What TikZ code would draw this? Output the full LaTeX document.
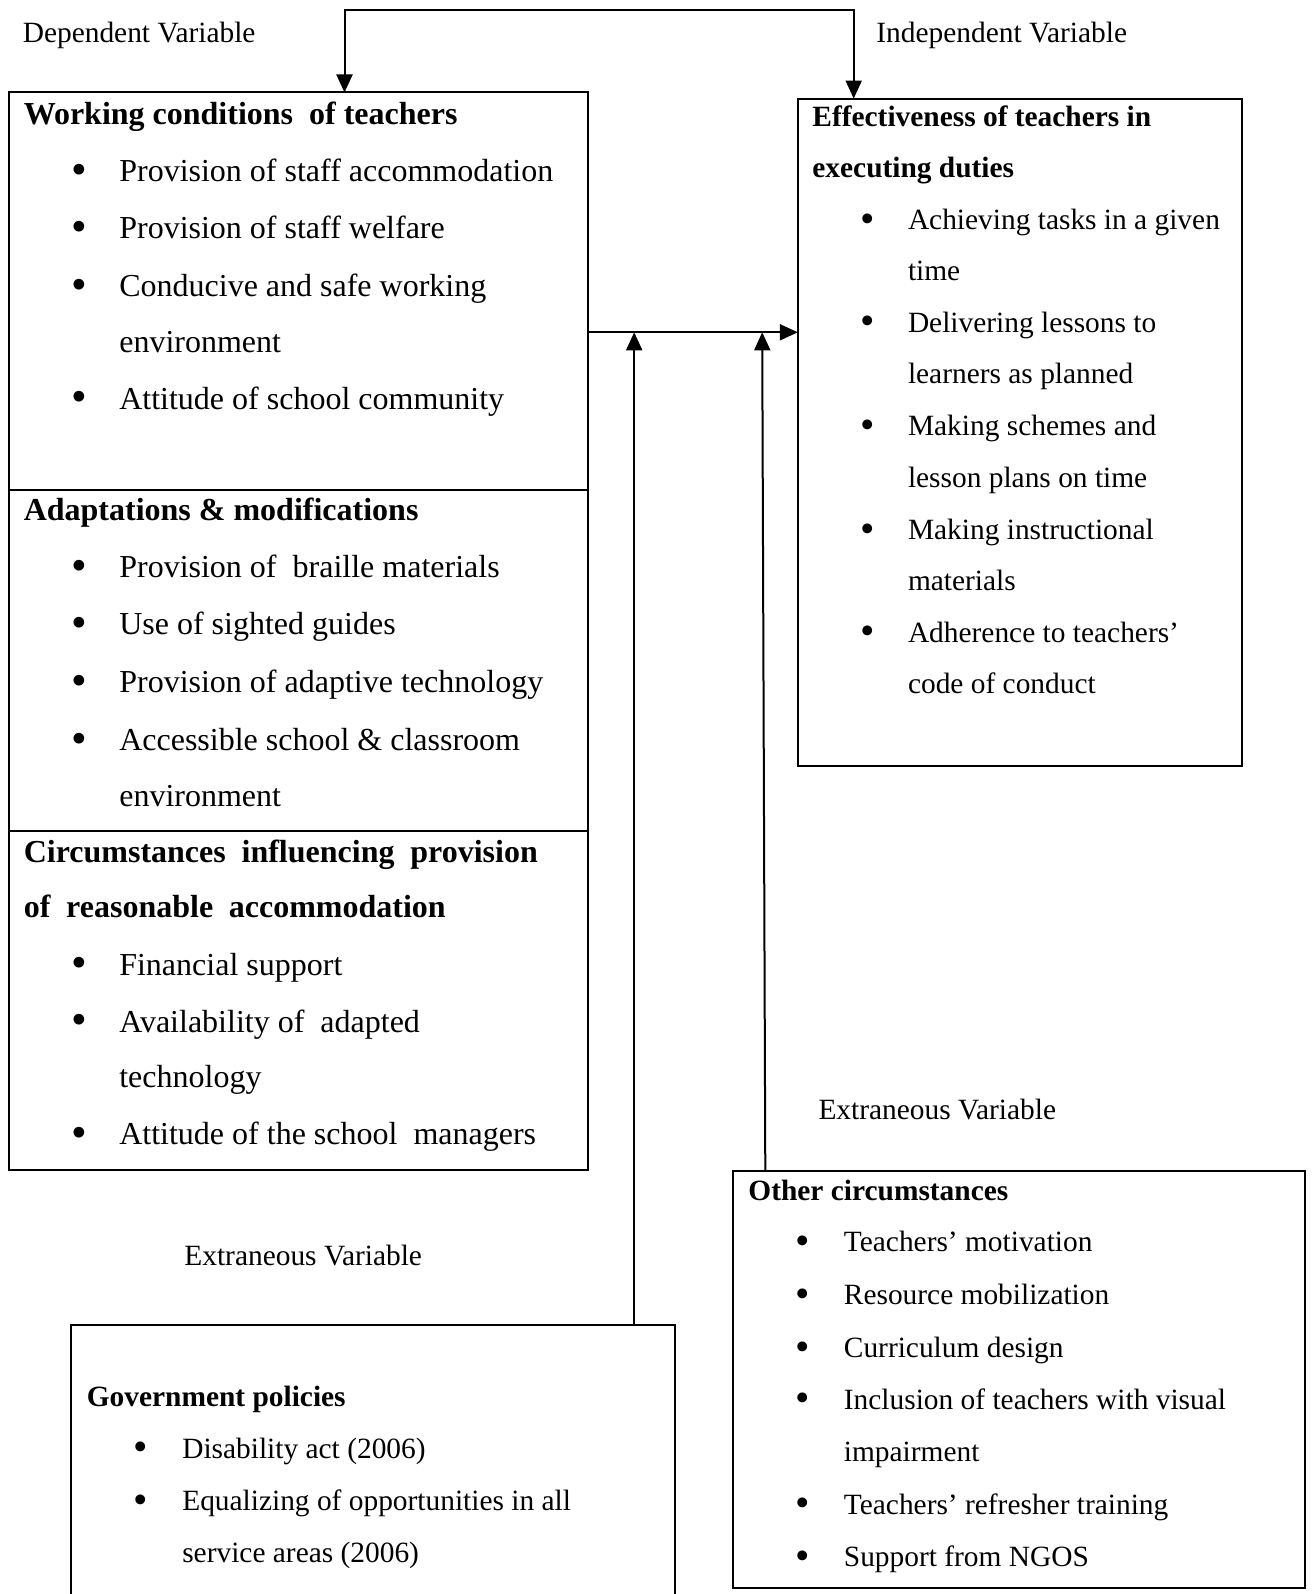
\documentclass[tikz,border=0pt]{standalone}
\usepackage{fontspec}
\setmainfont{Liberation Serif}
\usetikzlibrary{arrows.meta}
\newcommand{\bl}[1]{\llap{\raisebox{-0.09em}{\scalebox{1.4}{\textbullet}}\hspace{#1}}}
\begin{document}
\begin{tikzpicture}[x=0.5pt,y=-0.5pt,
  box/.style={draw,line width=1pt,inner sep=0pt,outer sep=0pt,anchor=north west},
  arr/.style={line width=1pt,-{Triangle[width=8pt,length=9pt]}},
  bigt/.style={anchor=base west,inner sep=0pt,yshift=-1.5pt,font=\fontsize{16}{19}\selectfont},
  bigh/.style={anchor=base west,inner sep=0pt,yshift=-1.5pt,font=\fontsize{16}{19}\selectfont\bfseries},
  smt/.style={anchor=base west,inner sep=0pt,yshift=-1.5pt,font=\fontsize{14.7}{17}\selectfont},
  smh/.style={anchor=base west,inner sep=0pt,yshift=-1.5pt,font=\fontsize{14.7}{17}\selectfont\bfseries}]
\useasboundingbox (0,0) rectangle (1311,1594);

% boxes
\node[box,minimum width=289.65pt,minimum height=198.7pt] (wc) at (9.1,92.5) {};
\node[box,minimum width=289.65pt,minimum height=170.7pt] (ad) at (9.1,489.9) {};
\node[box,minimum width=289.65pt,minimum height=169.25pt] (ci) at (9.1,831.3) {};
\node[box,minimum width=222.05pt,minimum height=333.85pt] (eff) at (797.8,98.6) {};
\node[box,minimum width=301.85pt,minimum height=142.35pt] (gov) at (71.1,1325.3) {};
\node[box,minimum width=286.05pt,minimum height=208.35pt] (oth) at (732.8,1170.8) {};

% labels
\node[smt] (dep) at (22.4,40) {Dependent Variable};
\node[smt] (ind) at (876,40) {Independent Variable};
\node[smt] (ex1) at (818.1,1116.7) {Extraneous Variable};
\node[smt] (ex2) at (184,1262) {Extraneous Variable};

% working conditions
\node[bigh] (wc0) at (23.4,121.4) {Working conditions~ of teachers};
\node[bigt] (wc1) at (118.9,178.3) {\bl{16pt}Provision of staff accommodation};
\node[bigt] (wc2) at (118.9,235.2) {\bl{16pt}Provision of staff welfare};
\node[bigt] (wc3) at (118.9,293.2) {\bl{16pt}Conducive and safe working};
\node[bigt] (wc4) at (118.9,349.1) {environment};
\node[bigt] (wc5) at (118.9,406) {\bl{16pt}Attitude of school community};

% adaptations
\node[bigh] (ad0) at (23.4,517.8) {Adaptations \& modifications};
\node[bigt] (ad1) at (118.9,574.7) {\bl{16pt}Provision of~ braille materials};
\node[bigt] (ad2) at (118.9,631.6) {\bl{16pt}Use of sighted guides};
\node[bigt] (ad3) at (118.9,689.5) {\bl{16pt}Provision of adaptive technology};
\node[bigt] (ad4) at (118.9,747.5) {\bl{16pt}Accessible school \& classroom};
\node[bigt] (ad5) at (118.9,803.3) {environment};

% circumstances
\node[bigh] (ci0) at (23.4,859.2) {\makebox[257pt][s]{Circumstances influencing provision}};
\node[bigh] (ci1) at (23.4,914.1) {\makebox[211pt][s]{of reasonable accommodation}};
\node[bigt] (ci2) at (118.9,972.1) {\bl{16pt}Financial support};
\node[bigt] (ci3) at (118.9,1029) {\bl{16pt}Availability of~ adapted};
\node[bigt] (ci4) at (118.9,1084.9) {technology};
\node[bigt] (ci5) at (118.9,1141.8) {\bl{16pt}Attitude of the school~ managers};

% effectiveness
\node[smh] (ef0) at (812,123.8) {Effectiveness of teachers in};
\node[smh] (ef1) at (812,174.6) {executing duties};
\node[smt] (ef2) at (907.6,226.4) {\bl{16.8pt}Achieving tasks in a given};
\node[smt] (ef3) at (907.6,277.2) {time};
\node[smt] (ef4) at (907.6,329.1) {\bl{16.8pt}Delivering lessons to};
\node[smt] (ef5) at (907.6,380.9) {learners as planned};
\node[smt] (ef6) at (907.6,432.7) {\bl{16.8pt}Making schemes and};
\node[smt] (ef7) at (907.6,484.5) {lesson plans on time};
\node[smt] (ef8) at (907.6,536.4) {\bl{16.8pt}Making instructional};
\node[smt] (ef9) at (907.6,587.2) {materials};
\node[smt] (ef10) at (907.6,639) {\bl{16.8pt}Adherence to teachers’};
\node[smt] (ef11) at (907.6,690.8) {code of conduct};

% government
\node[smh] (gv0) at (86.4,1403.3) {Government policies};
\node[smt] (gv1) at (181.9,1455.1) {\bl{17.3pt}Disability act (2006)};
\node[smt] (gv2) at (181.9,1507.9) {\bl{17.3pt}Equalizing of opportunities in all};
\node[smt] (gv3) at (181.9,1559.8) {service areas (2006)};

% other
\node[smh] (ot0) at (748,1197) {Other circumstances};
\node[smt] (ot1) at (843.5,1248.8) {\bl{16.8pt}Teachers’ motivation};
\node[smt] (ot2) at (843.5,1301.7) {\bl{16.8pt}Resource mobilization};
\node[smt] (ot3) at (843.5,1354.5) {\bl{16.8pt}Curriculum design};
\node[smt] (ot4) at (843.5,1406.3) {\bl{16.8pt}Inclusion of teachers with visual};
\node[smt] (ot5) at (843.5,1458.2) {impairment};
\node[smt] (ot6) at (843.5,1511) {\bl{16.8pt}Teachers’ refresher training};
\node[smt] (ot7) at (843.5,1563.9) {\bl{16.8pt}Support from NGOS};

% connectors
\coordinate (tl) at (344.5,10.2);
\coordinate (tr) at (853.7,10.2);
\coordinate (m) at (0,332.3);
\coordinate (v1) at (634.2,0);
\coordinate (v2top) at (762.2,332.3);
\coordinate (v2bot) at (765.3,0);
\draw[line width=1pt,{Triangle[width=8pt,length=9pt]}-{Triangle[width=8pt,length=9pt]}]
  (tl |- wc.north) -- (tl) -- (tr) -- (tr |- eff.north);
\draw[arr] (wc.east |- m) -- (eff.west |- m);
\draw[arr] (gov.north -| v1) -- (m -| v1);
\draw[arr] (oth.north -| v2bot) -- (v2top);
\end{tikzpicture}
\end{document}
